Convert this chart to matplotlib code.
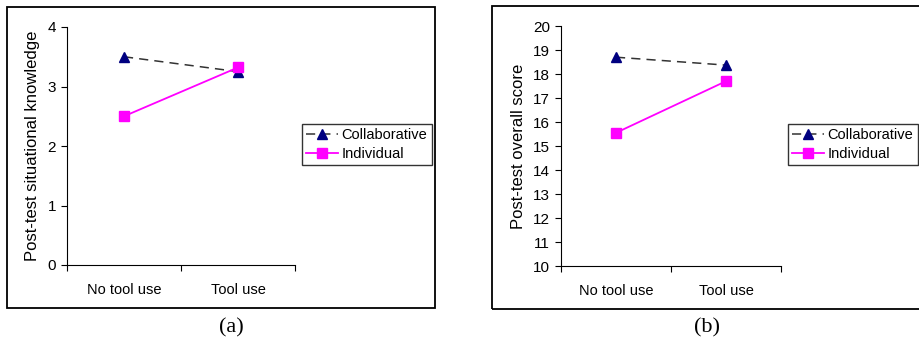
import matplotlib.pyplot as plt
import numpy as np
from matplotlib.patches import Rectangle

# data
conditions = ['No tool use', 'Tool use']
knowledge_collab = [3.5, 3.25]
knowledge_indiv = [2.5, 3.32]
score_collab = [18.7, 18.37]
score_indiv = [15.55, 17.7]

plt.rcParams['font.family'] = ['Liberation Sans', 'DejaVu Sans']
W, H = 919, 343
fig = plt.figure(figsize=(W / 100, H / 100), dpi=100)


def fx(px):
    return px / W


def fy(py):
    return 1 - py / H


# outer frames of the two panels
fig.patches.append(Rectangle((fx(7), fy(308)), fx(435 - 7), (308 - 7) / H,
                             transform=fig.transFigure, fill=False,
                             edgecolor='black', linewidth=1.3))
fig.patches.append(Rectangle((fx(492), fy(309)), fx(940 - 492), (309 - 6) / H,
                             transform=fig.transFigure, fill=False,
                             edgecolor='black', linewidth=1.3))


def panel(rect, collab, indiv, ylim, ylabel, legend_xy, caption, cap_x):
    ax = fig.add_axes(rect)
    x = np.arange(len(conditions)) + 0.5
    ax.plot(x, collab, color='#333333', linestyle=(0, (6, 4)), linewidth=1.1,
            marker='^', markersize=7.5, markerfacecolor='#000080',
            markeredgecolor='#000080', label='Collaborative')
    ax.plot(x, indiv, color='#FF00FF', linewidth=1.3, marker='s',
            markersize=6.5, markerfacecolor='#FF00FF',
            markeredgecolor='#FF00FF', label='Individual')
    ax.set_xlim(0, len(conditions))
    ax.set_ylim(*ylim)
    ax.set_yticks(np.arange(ylim[0], ylim[1] + 1, 1))
    ax.set_xticks(np.arange(len(conditions) + 1))
    ax.set_xticklabels([])
    ax.set_xticks(x, minor=True)
    ax.set_xticklabels(conditions, minor=True, fontsize=10.5)
    ax.tick_params(axis='x', which='minor', length=0, pad=13)
    ax.tick_params(axis='x', which='major', length=4, direction='out')
    ax.tick_params(axis='y', length=4, direction='out', labelsize=11, pad=4)
    ax.spines['top'].set_visible(False)
    ax.spines['right'].set_visible(False)
    ax.set_ylabel(ylabel, fontsize=12, labelpad=5)
    leg = ax.legend(loc='upper left', bbox_to_anchor=legend_xy,
                    bbox_transform=fig.transFigure, borderaxespad=0,
                    fontsize=10.5, fancybox=False, frameon=True,
                    edgecolor='black', handlelength=2.2, handletextpad=0.2,
                    borderpad=0.3, labelspacing=0.3)
    leg.get_frame().set_linewidth(1.0)
    fig.text(cap_x, fy(328), caption, ha='center', va='center',
             fontsize=16, family=['Liberation Serif', 'DejaVu Serif'])
    return ax


panel([fx(67), fy(265), fx(295 - 67), (265 - 27) / H],
      knowledge_collab, knowledge_indiv, (0, 4),
      'Post-test situational knowledge', (fx(302), fy(124)), '(a)', fx(231))
panel([fx(561), fy(266), fx(781 - 561), (266 - 26) / H],
      score_collab, score_indiv, (10, 20),
      'Post-test overall score', (fx(788), fy(124)), '(b)', fx(707))

fig.savefig('out.png', dpi=100)
